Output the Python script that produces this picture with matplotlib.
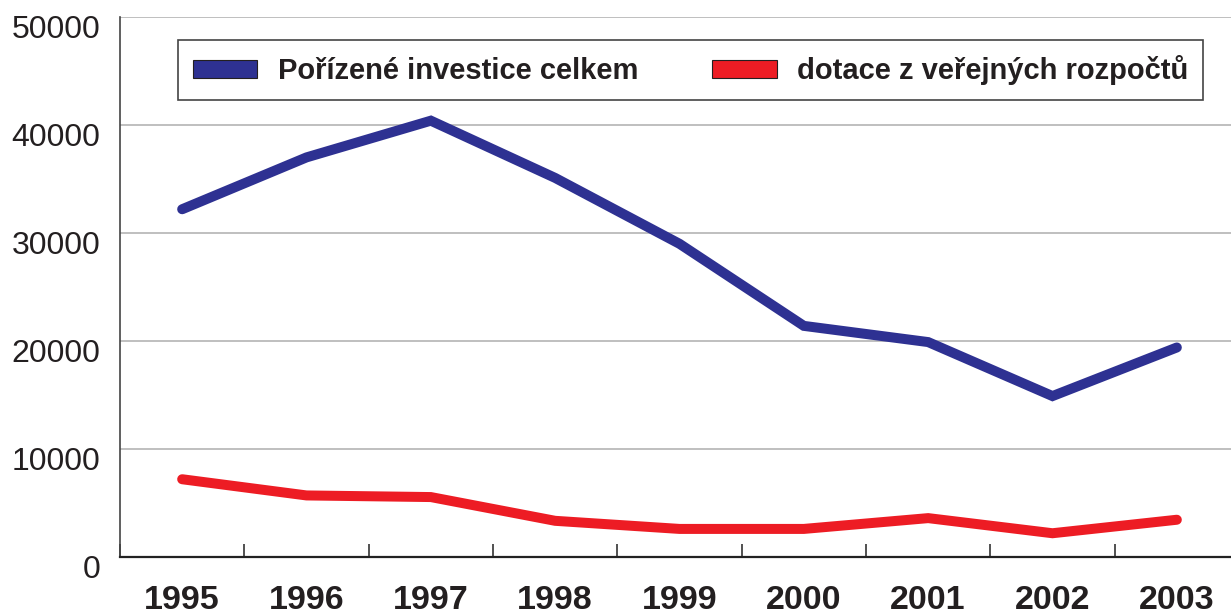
import numpy as np
import matplotlib
matplotlib.use('Agg')
import matplotlib.pyplot as plt
from matplotlib.patches import Patch
from matplotlib.transforms import ScaledTranslation

years = ['1995', '1996', '1997', '1998', '1999', '2000', '2001', '2002', '2003']
investice = [32200, 37000, 40400, 35100, 29000, 21400, 19900, 14900, 19400]
dotace = [7200, 5700, 5550, 3350, 2600, 2600, 3600, 2200, 3450]
labels = ['Pořízené investice celkem', 'dotace z veřejných rozpočtů']

blue = '#2e3192'
red = '#ed1c24'
ink = '#231f20'

plt.rcParams['font.family'] = ['Liberation Sans', 'DejaVu Sans']

fig = plt.figure(figsize=(12.31, 6.16), dpi=100)
ax = fig.add_axes([120 / 1231, 59 / 616, 1119 / 1231, 540 / 616])

x = np.arange(len(years))
ax.plot(x, investice, color=blue, lw=7.2, solid_capstyle='round', solid_joinstyle='miter', zorder=3)
ax.plot(x, dotace, color=red, lw=7.2, solid_capstyle='round', solid_joinstyle='miter', zorder=3)

ax.set_xlim(-0.5, len(years) - 0.5)
ax.set_ylim(0, 50000)

ax.set_yticks(np.arange(0, 50001, 10000))
ax.set_yticklabels([str(v) for v in range(0, 50001, 10000)], fontsize=23, color=ink)
ax.tick_params(axis='y', length=0, pad=14)
for lab in ax.get_yticklabels():
    lab.set_transform(lab.get_transform() + ScaledTranslation(0, -0.09, fig.dpi_scale_trans))
ax.yaxis.grid(True, color='#b4b4b4', lw=1.2)
ax.set_axisbelow(True)

ax.set_xticks(x)
ax.set_xticklabels(years, fontsize=24.5, fontweight='bold', color=ink)
ax.tick_params(axis='x', which='major', length=0, pad=20)
ax.set_xticks(np.arange(-0.5, len(years), 1), minor=True)
ax.tick_params(axis='x', which='minor', direction='in', length=9.4, width=1.2, color='#333333')

for s in ['top', 'right']:
    ax.spines[s].set_visible(False)
ax.spines['left'].set_color('#444444')
ax.spines['left'].set_linewidth(1.2)
ax.spines['bottom'].set_color('#222222')
ax.spines['bottom'].set_linewidth(1.6)

handles = [Patch(facecolor=blue, edgecolor=ink, lw=0.8),
           Patch(facecolor=red, edgecolor=ink, lw=0.8)]
leg = ax.legend(handles, labels, loc='upper left', ncol=2,
                bbox_to_anchor=(178 / 1231, 1 - 40 / 616),
                bbox_transform=fig.transFigure, fancybox=False, framealpha=1,
                edgecolor='#444444', borderaxespad=0, handlelength=2.2, handleheight=0.6,
                handletextpad=0.7, borderpad=0.52, columnspacing=2.55,
                prop={'size': 21, 'weight': 'bold'})
leg.get_frame().set_linewidth(1.2)
for t in leg.get_texts():
    t.set_color(ink)

fig.savefig('out.png', dpi=100)
